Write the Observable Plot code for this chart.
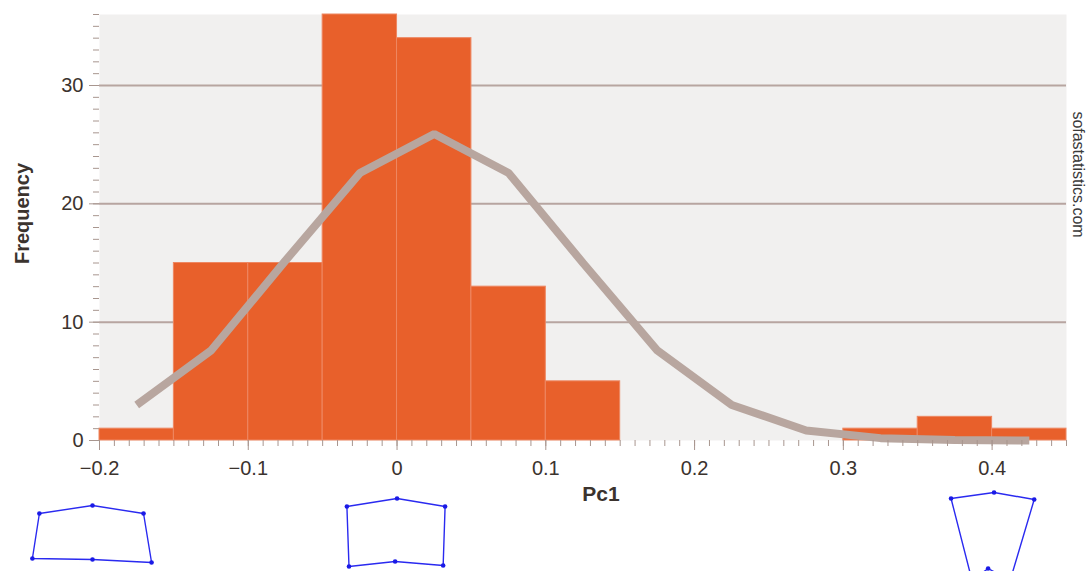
<!DOCTYPE html>
<html>
<head>
<meta charset="utf-8">
<script src="https://cdn.jsdelivr.net/npm/d3@7"></script>
<script src="https://cdn.jsdelivr.net/npm/@observablehq/plot@0.6"></script>
<style>
  html, body { margin: 0; padding: 0; background: #ffffff; overflow: hidden; }
  #chart { position: relative; width: 1089px; height: 571px; overflow: hidden; }
  #shapes { position: absolute; left: 0; top: 485px; }
</style>
</head>
<body>
<div id="chart"><div id="main"></div><div id="shapes"></div></div>
<script>
// Histogram of PC1 scores (bin edges and counts)
const binLo  = [-0.20, -0.15, -0.10, -0.05, 0.00, 0.05, 0.10, 0.15, 0.20, 0.25, 0.30, 0.35, 0.40];
const binHi  = [-0.15, -0.10, -0.05, 0.00, 0.05, 0.10, 0.15, 0.20, 0.25, 0.30, 0.35, 0.40, 0.45];
const counts = [1, 15, 15, 36, 34, 13, 5, 0, 0, 0, 1, 2, 1];

// Fitted normal curve evaluated at bin midpoints
const curveX = [-0.175, -0.125, -0.075, -0.025, 0.025, 0.075, 0.125, 0.175, 0.225, 0.275, 0.325, 0.375, 0.425];
const curveY = [3.0, 7.6, 15.2, 22.6, 25.9, 22.6, 15.0, 7.6, 3.0, 0.85, 0.2, 0.04, 0.0];

// Axis ticks
const majorX = [-0.2, -0.1, 0, 0.1, 0.2, 0.3, 0.4];
const majorY = [0, 10, 20, 30];
const gridY  = [10, 20, 30];

// Landmark outlines along PC1 (x in PC1 units, y in outline units);
// order: top-left, top-mid, top-right, bottom-right, bottom-mid, bottom-left
const shapeLowX  = [-0.2404, -0.2047, -0.1704, -0.1650, -0.2047, -0.2451];
const shapeLowY  = [58, 66, 58, 9, 12, 13];
const shapeMidX  = [-0.0337, 0.0000, 0.0323, 0.0310, -0.0013, -0.0323];
const shapeMidY  = [65, 73, 65, 6, 10, 5];
const shapeHighX = [0.3724, 0.4013, 0.4283, 0.4121, 0.3973, 0.3865];
const shapeHighY = [73, 79, 72, -9, 3, -9];

const bins = binLo.map((lo, i) => ({lo, hi: binHi[i], n: counts[i]}));
const curve = curveX.map((x, i) => ({x, y: curveY[i]}));

const minorX = d3.range(-20, 46).map(k => k / 100);
const minorY = d3.range(0, 37);

const tickColor = "#a8968f";
const textColor = "#3b332e";
const fmt = d3.format("");

const main = Plot.plot({
  width: 1089,
  height: 571,
  marginLeft: 99,
  marginRight: 23,
  marginTop: 14,
  marginBottom: 131,
  style: {fontFamily: "'Liberation Sans', Arial, sans-serif", background: "#ffffff", color: textColor},
  x: {domain: [-0.2, 0.45]},
  y: {domain: [0, 36]},
  marks: [
    Plot.frame({fill: "#f1f0ef", stroke: null}),
    Plot.ruleY(gridY, {stroke: "#b7a5a0", strokeWidth: 2}),
    Plot.rect(bins, {x1: "lo", x2: "hi", y1: 0, y2: "n", fill: "#e8602b", stroke: "#ee8762", strokeWidth: 1}),
    Plot.line(curve, {x: "x", y: "y", stroke: "#b8a69f", strokeWidth: 8, strokeLinejoin: "miter", strokeLinecap: "butt"}),
    // y axis: minor dashes every unit, labelled majors every ten
    Plot.axisY(minorY, {tickSize: 6, text: null, stroke: tickColor, label: null}),
    Plot.axisY(majorY, {tickSize: 10, tickPadding: 6, fontSize: 20, stroke: tickColor, fill: textColor, label: null}),
    // x axis: minor ticks every 0.01, labelled majors every 0.1
    Plot.axisX(minorX, {tickSize: 6, text: null, stroke: tickColor, label: null}),
    Plot.axisX(majorX, {tickSize: 10, tickPadding: 10, fontSize: 20, tickFormat: fmt, stroke: tickColor, fill: textColor, label: null}),
    Plot.text(["Frequency"], {frameAnchor: "left", textAnchor: "middle", lineAnchor: "middle", dx: -77, dy: -14, rotate: -90, fontSize: 20, fontWeight: "bold", fill: textColor}),
    Plot.text(["Pc1"], {frameAnchor: "bottom", textAnchor: "middle", lineAnchor: "middle", dx: 18, dy: 54, fontSize: 21, fontWeight: "bold", fill: textColor}),
    Plot.text(["sofastatistics.com"], {frameAnchor: "top-right", textAnchor: "middle", lineAnchor: "middle", dx: 12, dy: 160, rotate: 90, fontSize: 16, fill: "#3a3a3a", letterSpacing: "-0.5px"})
  ]
});
document.getElementById("main").append(main);

const outlines = [
  {name: "low", xs: shapeLowX, ys: shapeLowY},
  {name: "mid", xs: shapeMidX, ys: shapeMidY},
  {name: "high", xs: shapeHighX, ys: shapeHighY}
];
const landmarks = outlines.flatMap(s => s.xs.map((x, i) => ({shape: s.name, x, y: s.ys[i]})));
// closed outlines: repeat the first landmark of each shape at the end
const loops = outlines.flatMap(s => [...s.xs, s.xs[0]].map((x, i) => ({shape: s.name, x, y: [...s.ys, s.ys[0]][i]})));

const shapes = Plot.plot({
  width: 1089,
  height: 86,
  marginLeft: 99,
  marginRight: 23,
  marginTop: 0,
  marginBottom: 0,
  style: {background: "transparent", overflow: "visible"},
  x: {domain: [-0.2, 0.45], axis: null},
  y: {domain: [0, 86], axis: null},
  marks: [
    Plot.line(loops, {x: "x", y: "y", z: "shape", stroke: "#2a2af0", strokeWidth: 1.4}),
    Plot.dot(landmarks, {x: "x", y: "y", r: 2.3, fill: "#1a1ae6", stroke: null})
  ]
});
document.getElementById("shapes").append(shapes);
</script>
</body>
</html>
